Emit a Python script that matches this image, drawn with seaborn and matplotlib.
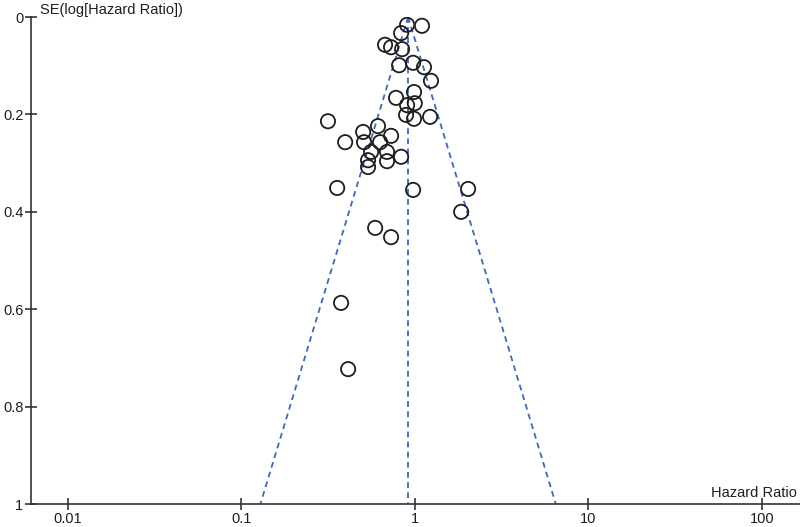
import numpy as np
import pandas as pd
import matplotlib
matplotlib.use("Agg")
import matplotlib.pyplot as plt
import seaborn as sns

# Study estimates
hazard_ratio = [0.903, 1.10, 0.834, 0.674, 0.730, 0.845, 0.812, 0.978, 1.13, 1.24,
                0.780, 0.990, 0.903, 1.00, 0.891, 0.990, 1.225, 0.316, 0.504, 0.614,
                0.397, 0.510, 0.631, 0.730, 0.560, 0.692, 0.834, 0.538, 0.538, 0.692,
                0.357, 0.978, 2.03, 1.85, 0.591, 0.730, 0.376, 0.413]
se_log_hr = [0.016, 0.018, 0.033, 0.057, 0.062, 0.066, 0.099, 0.094, 0.103, 0.131,
             0.166, 0.154, 0.181, 0.177, 0.201, 0.209, 0.205, 0.214, 0.236, 0.224,
             0.257, 0.257, 0.257, 0.244, 0.277, 0.277, 0.287, 0.294, 0.308, 0.296,
             0.351, 0.355, 0.353, 0.400, 0.433, 0.452, 0.587, 0.723]
pooled_hr = 0.915

x_ticks = [0.01, 0.1, 1, 10, 100]
x_tick_labels = ["0.01", "0.1", "1", "10", "100"]
y_ticks = [0, 0.2, 0.4, 0.6, 0.8, 1]
y_tick_labels = ["0", "0.2", "0.4", "0.6", "0.8", "1"]

df = pd.DataFrame({"HR": hazard_ratio, "SE": se_log_hr})

sns.set_style("ticks")
plt.rcParams["font.family"] = ["Liberation Sans", "DejaVu Sans"]

fig = plt.figure(figsize=(8, 5.27), dpi=100)
ax = fig.add_axes([0.03875, 0.0436, 0.96125, 0.9241])

# pseudo 95% confidence limits around the pooled estimate
se_line = np.array([0.0, 1.0])
lower = np.exp(np.log(pooled_hr) - 1.96 * se_line)
upper = np.exp(np.log(pooled_hr) + 1.96 * se_line)
line_col = "#3a68c4"
dash = (3.2, 2.4)
ax.plot(lower, se_line, color=line_col, lw=1.3, dashes=dash, zorder=1)
ax.plot(upper, se_line, color=line_col, lw=1.3, dashes=dash, zorder=1)
ax.plot([pooled_hr, pooled_hr], se_line, color=line_col, lw=1.3, dashes=dash, zorder=1)

sns.scatterplot(data=df, x="HR", y="SE", ax=ax, s=105, marker="o",
                facecolor="none", edgecolor="#1e1e1e", linewidth=1.3, zorder=3)

ax.set_xscale("log")
ax.set_xlim(0.00614, 166)
ax.set_ylim(1, 0)
ax.set_xticks(x_ticks)
ax.set_xticklabels(x_tick_labels)
ax.minorticks_off()
ax.set_yticks(y_ticks)
ax.set_yticklabels(y_tick_labels)
ax.set_xlabel("")
ax.set_ylabel("")

for side in ["top", "right"]:
    ax.spines[side].set_visible(False)
for side in ["left", "bottom"]:
    ax.spines[side].set_color("#333333")
    ax.spines[side].set_linewidth(1.2)
ax.tick_params(axis="both", direction="inout", length=9, width=1.2,
               color="#333333", labelsize=10.5, labelcolor="#1e1e1e", pad=1)

ax.text(0.012, 1.0, "SE(log[Hazard Ratio])", transform=ax.transAxes,
        ha="left", va="bottom", fontsize=10.5, color="#1e1e1e")
ax.text(0.996, 0.008, "Hazard Ratio", transform=ax.transAxes,
        ha="right", va="bottom", fontsize=10.5, color="#1e1e1e")

fig.savefig("out.png", dpi=100)
